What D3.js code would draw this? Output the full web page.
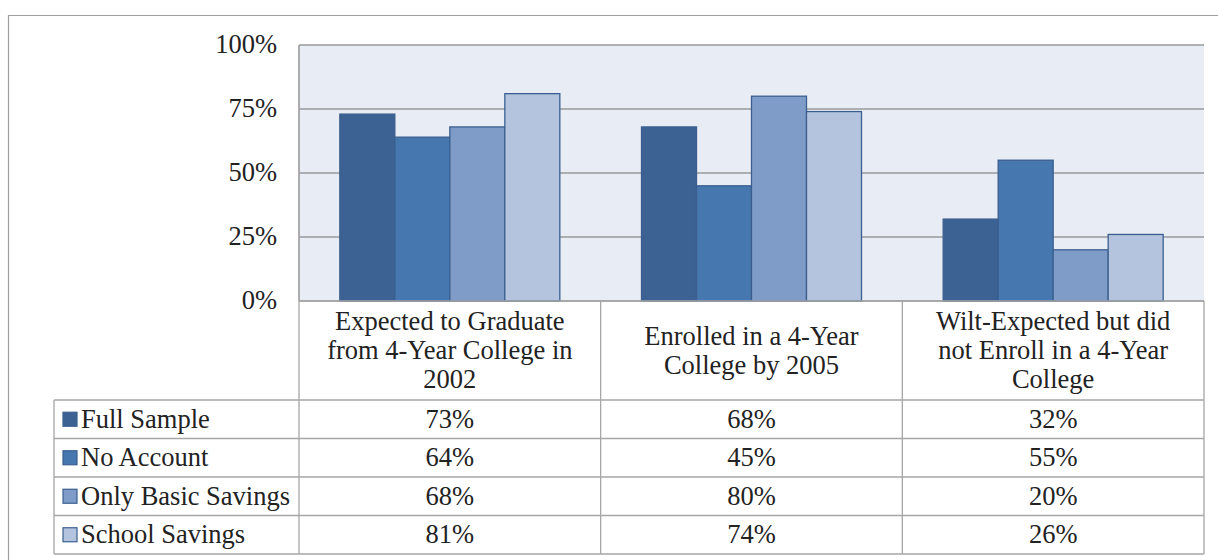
<!DOCTYPE html>
<html><head><meta charset="utf-8">
<script src="https://cdn.jsdelivr.net/npm/d3@7"></script>
<style>body{margin:0;background:#fff;} svg{display:block;} text{font-family:"Liberation Serif","Times New Roman",serif;}</style>
</head><body>
<script>
const categories = [
  ["Expected to Graduate", "from 4-Year College in", "2002"],
  ["Enrolled in a 4-Year", "College by 2005"],
  ["Wilt-Expected but did", "not Enroll in a 4-Year", "College"]
];
const seriesNames = ["Full Sample", "No Account", "Only Basic Savings", "School Savings"];
const fullSample = [73, 68, 32];
const noAccount = [64, 45, 55];
const onlyBasic = [68, 80, 20];
const schoolSavings = [81, 74, 26];
const yTicks = [0, 25, 50, 75, 100];
const colors = ["#3B6292", "#4677AF", "#7F9CC8", "#B5C4DE"];

(function(){
const series = [fullSample, noAccount, onlyBasic, schoolSavings];
const W = 1218, H = 560;
const svg = d3.select("body").append("svg").attr("width", W).attr("height", H);
const fs = "26.5px";
const grid = "#9a9a9a";

// outer frame
svg.append("path").attr("d", "M8.5,560 L8.5,15.5 L1218,15.5").attr("fill","none").attr("stroke","#a0a0a0").attr("stroke-width",1.2);

const pLeft = 299, pRight = 1204, pTop = 45, pBottom = 301;
const x = d3.scaleBand().domain(d3.range(categories.length)).range([pLeft, pRight]);
const y = d3.scaleLinear().domain([0, 100]).range([pBottom, pTop]);
const xi = d3.scaleBand().domain(d3.range(series.length)).range([0, 220]);

svg.append("rect").attr("x", pLeft).attr("y", pTop).attr("width", pRight-pLeft).attr("height", pBottom-pTop).attr("fill", "#E8ECF5");

svg.append("g").selectAll("line").data(yTicks).join("line")
  .attr("x1", pLeft).attr("x2", pRight).attr("y1", d=>y(d)).attr("y2", d=>y(d))
  .attr("stroke", grid).attr("stroke-width", 1.3);
svg.append("line").attr("x1", pLeft).attr("x2", pLeft).attr("y1", pTop).attr("y2", pBottom).attr("stroke", grid).attr("stroke-width",1.3);

svg.append("g").selectAll("text").data(yTicks).join("text")
  .attr("x", 277).attr("y", d=>y(d)).attr("dy", "0.3em").attr("text-anchor","end")
  .style("font-size", fs).attr("fill","#222")
  .text(d=>d+"%");

// bars
const off = (x.bandwidth() - 220)/2;
series.forEach((s, si) => {
  svg.append("g").selectAll("rect").data(s).join("rect")
    .attr("x", (d,i)=>x(i)+off+xi(si)).attr("width", xi.bandwidth())
    .attr("y", d=>y(d)).attr("height", d=>pBottom-y(d))
    .attr("fill", colors[si]).attr("stroke", "#3A5F8F").attr("stroke-width", 1.3);
});

// table
const tLeft = 54;
const rowY = [301, 400, 438.5, 477, 515.5, 554];
const tc = "#a6a6a6";
svg.append("g").selectAll("line").data(d3.range(categories.length+1)).join("line")
  .attr("x1", i=> i<categories.length ? x(i) : pRight).attr("x2", i=> i<categories.length ? x(i) : pRight)
  .attr("y1", i=> i===0 ? pTop : pBottom).attr("y2", rowY[5]).attr("stroke", tc).attr("stroke-width",1.3);
svg.append("line").attr("x1", pLeft).attr("x2", pRight).attr("y1", pBottom).attr("y2", pBottom).attr("stroke", tc).attr("stroke-width",1.3);
svg.append("g").selectAll("line").data(rowY.slice(1)).join("line")
  .attr("x1", tLeft).attr("x2", pRight).attr("y1", d=>d).attr("y2", d=>d).attr("stroke", tc).attr("stroke-width",1.3);
svg.append("line").attr("x1", tLeft).attr("x2", tLeft).attr("y1", rowY[1]).attr("y2", rowY[5]).attr("stroke", tc).attr("stroke-width",1.3);

// header labels
categories.forEach((lines, i) => {
  const cy = (rowY[0]+rowY[1])/2;
  const lh = 29;
  const t = svg.append("text").attr("text-anchor","middle").style("font-size", fs).attr("fill","#222");
  lines.forEach((ln, k) => {
    t.append("tspan").attr("x", x(i)+x.bandwidth()/2).attr("y", cy + (k - (lines.length-1)/2)*lh).attr("dy","0.33em").text(ln);
  });
});

// rows
seriesNames.forEach((name, si) => {
  const cy = (rowY[si+1]+rowY[si+2])/2;
  svg.append("rect").attr("x", 63).attr("y", cy-7).attr("width", 14).attr("height", 14)
    .attr("fill", colors[si]).attr("stroke", "#3A5F8F").attr("stroke-width", 1.2);
  svg.append("text").attr("x", 81).attr("y", cy).attr("dy","0.33em").style("font-size", fs).attr("fill","#222").text(name);
  svg.append("g").selectAll("text").data(series[si]).join("text")
    .attr("x", (d,i)=>x(i)+x.bandwidth()/2).attr("y", cy).attr("dy","0.33em").attr("text-anchor","middle")
    .style("font-size", fs).attr("fill","#222").text(d=>d+"%");
});
})();
</script>
</body></html>
